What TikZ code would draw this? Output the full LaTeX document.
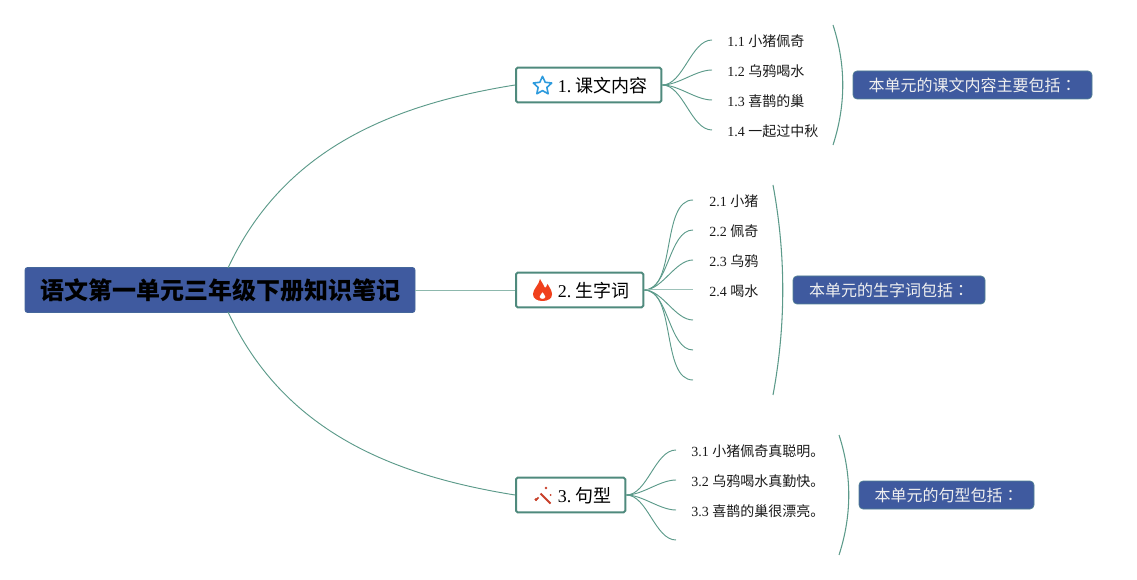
\documentclass[tikz,border=0pt]{standalone}
\usepackage{fontspec}
\setmainfont{Liberation Serif}
\newfontfamily\cjk{Noto Sans CJK SC}
\newfontfamily\cjktc{Noto Sans CJK TC}
\usetikzlibrary{shapes.geometric}
\definecolor{rootblue}{HTML}{3F5A9F}
\definecolor{linkgreen}{HTML}{5C9A8A}
\definecolor{boxgreen}{HTML}{4F8A7D}
\definecolor{wandred}{HTML}{C8402A}
\definecolor{flamered}{HTML}{F0401C}
\tikzset{
  rootbox/.style={draw=rootblue!80!linkgreen,line width=.5pt,fill=rootblue,rounded corners=1.8pt,minimum width=292.5pt,minimum height=33.75pt,inner sep=0pt,font=\cjk\bfseries\fontsize{18}{20}\selectfont,text=black},
  branchbox/.style={draw=boxgreen,line width=1.5pt,fill=white,rounded corners=1.2pt,anchor=west,minimum height=26pt,inner ysep=0pt,inner xsep=0pt,align=left,text height=13.4pt,text depth=1.6pt,font=\fontsize{13.5}{16}\selectfont},
  leaflabel/.style={anchor=west,inner ysep=0pt,text height=10.5pt,text depth=1pt,font=\fontsize{10.5}{13}\selectfont,text=black!90},
  callout/.style={draw=linkgreen!60!rootblue,line width=.5pt,fill=rootblue,rounded corners=3pt,minimum height=21pt,inner sep=0pt,font=\cjk\fontsize{12}{14}\selectfont,text=white!94!black},
  mainlink/.style={draw=linkgreen,line width=.7pt},
  leaflink/.style={draw=linkgreen,line width=.7pt,out=0,in=180,looseness=.8},
  bracket/.style={draw=linkgreen,line width=.8pt},
}
\begin{document}
\begin{tikzpicture}[x=.75pt,y=-.75pt,every node/.append style={execute at begin node=\frenchspacing}]
\useasboundingbox (0,0) rectangle (1137,580);
% main links
\coordinate (rt) at (228,268);
\coordinate (rb) at (228,312);
\node[rootbox] (root) at (220,290) {\raisebox{-.7pt}{语文第一单元三年级下册知识笔记}};
\node[branchbox,minimum width=109pt,text width=109pt] (b1) at (515,85) {\hspace*{31.4pt}1.\hspace{3.1pt}{\cjk 课文内容}};
\node[branchbox,minimum width=95.5pt,text width=95.5pt] (b2) at (515,290) {\hspace*{31.4pt}2.\hspace{3.1pt}{\cjk 生字词}};
\node[branchbox,minimum width=82pt,text width=82pt] (b3) at (515,495) {\hspace*{31.4pt}3.\hspace{3.1pt}{\cjk 句型}};
\draw[mainlink] (rt) .. controls (283,150) and (390,105) .. (b1.west);
\draw[mainlink,draw=linkgreen!70] (root.east) -- (b2.west);
\draw[mainlink] (rb) .. controls (283,430) and (390,475) .. (b3.west);
% leaves 1
\node[leaflabel,inner xsep=11.25pt] (l11) at (712,40) {1.1 {\cjk 小猪佩奇}};
\node[leaflabel,inner xsep=11.25pt] (l12) at (712,70) {1.2 {\cjk 乌鸦喝水}};
\node[leaflabel,inner xsep=11.25pt] (l13) at (712,100) {1.3 {\cjk 喜鹊的巢}};
\node[leaflabel,inner xsep=11.25pt] (l14) at (712,130) {1.4 {\cjk 一起过中秋}};
\foreach \n in {l11,l12,l13,l14} \draw[leaflink] (b1.east) to (\n.west);
% leaves 2
\node[leaflabel,inner xsep=12pt] (l21) at (693,200) {2.1 {\cjk 小猪}};
\node[leaflabel,inner xsep=12pt] (l22) at (693,230) {2.2 {\cjk 佩奇}};
\node[leaflabel,inner xsep=12pt] (l23) at (693,260) {2.3 {\cjk 乌鸦}};
\node[leaflabel,inner xsep=12pt] (l24) at (693,290) {2.4 {\cjk 喝水}};
\coordinate (l25) at (693,320);
\coordinate (l26) at (693,350);
\coordinate (l27) at (693,380);
\foreach \n in {l21,l22,l23} \draw[leaflink] (b2.east) to (\n.west);
\draw[draw=linkgreen!60,line width=.75pt] (b2.east) -- (l24.west);
\foreach \n in {l25,l26,l27} \draw[leaflink] (b2.east) to (\n);
% leaves 3
\node[leaflabel,inner xsep=11.25pt] (l31) at (676,450) {3.1 {\cjk 小猪佩奇真聪明。}};
\node[leaflabel,inner xsep=11.25pt] (l32) at (676,480) {3.2 {\cjk 乌鸦喝水真勤快。}};
\node[leaflabel,inner xsep=11.25pt] (l33) at (676,510) {3.3 {\cjk 喜鹊的巢很漂亮。}};
\coordinate (l34) at (676,540);
\foreach \n in {l31,l32,l33} \draw[leaflink] (b3.east) to (\n.west);
\draw[leaflink] (b3.east) to (l34);
% brackets
\coordinate (k1a) at (833,25); \coordinate (k1b) at (833,145);
\coordinate (k2a) at (773,185); \coordinate (k2b) at (773,395);
\coordinate (k3a) at (839,435); \coordinate (k3b) at (839,555);
\draw[bracket] (k1a) .. controls (846,65) and (846,105) .. (k1b);
\draw[bracket] (k2a) .. controls (786,255) and (786,325) .. (k2b);
\draw[bracket] (k3a) .. controls (852,475) and (852,515) .. (k3b);
% callouts
\node[callout,minimum width=179.25pt] (c1) at (972.5,85) {本单元的课文内容主要包括{\cjktc ：}};
\node[callout,minimum width=144pt] (c2) at (889,290) {本单元的生字词包括{\cjktc ：}};
\node[callout,minimum width=131.25pt] (c3) at (946.5,495) {本单元的句型包括{\cjktc ：}};
% star icon
\node[draw=cyan!75!blue!85,line width=1.2pt,star,star points=5,star point ratio=2.1,minimum size=14.5pt,inner sep=0pt,line join=round] (istar) at (542.5,86) {};
% flame icon
\fill[flamered,even odd rule] (540,279)
  .. controls (542,283) and (544,285) .. (545,288)
  .. controls (546,287) and (547,286) .. (547.5,284)
  .. controls (550,288) and (552,291) .. (552,294.5)
  .. controls (552,298.5) and (548,301) .. (542.5,301)
  .. controls (537,301) and (533,298.5) .. (533,294)
  .. controls (533,289) and (539,285) .. (540,279) -- cycle
  (542.5,292) .. controls (543,294) and (546,295) .. (545.5,297)
  .. controls (545,299.5) and (540,299.5) .. (539.5,297)
  .. controls (539,295) and (542,294) .. (542.5,292) -- cycle;
% wand icon
\draw[wandred,line width=1.5pt] (540.5,493.5) -- (550.5,503.5);
\draw[wandred,line width=1.1pt] (535.5,500.5) -- (538.5,497.5);
\fill[wandred] (536,499.5) circle (1.7);
\fill[wandred] (546,488) circle (1.3);
\fill[wandred] (550.5,495) circle (1);
\end{tikzpicture}
\end{document}
